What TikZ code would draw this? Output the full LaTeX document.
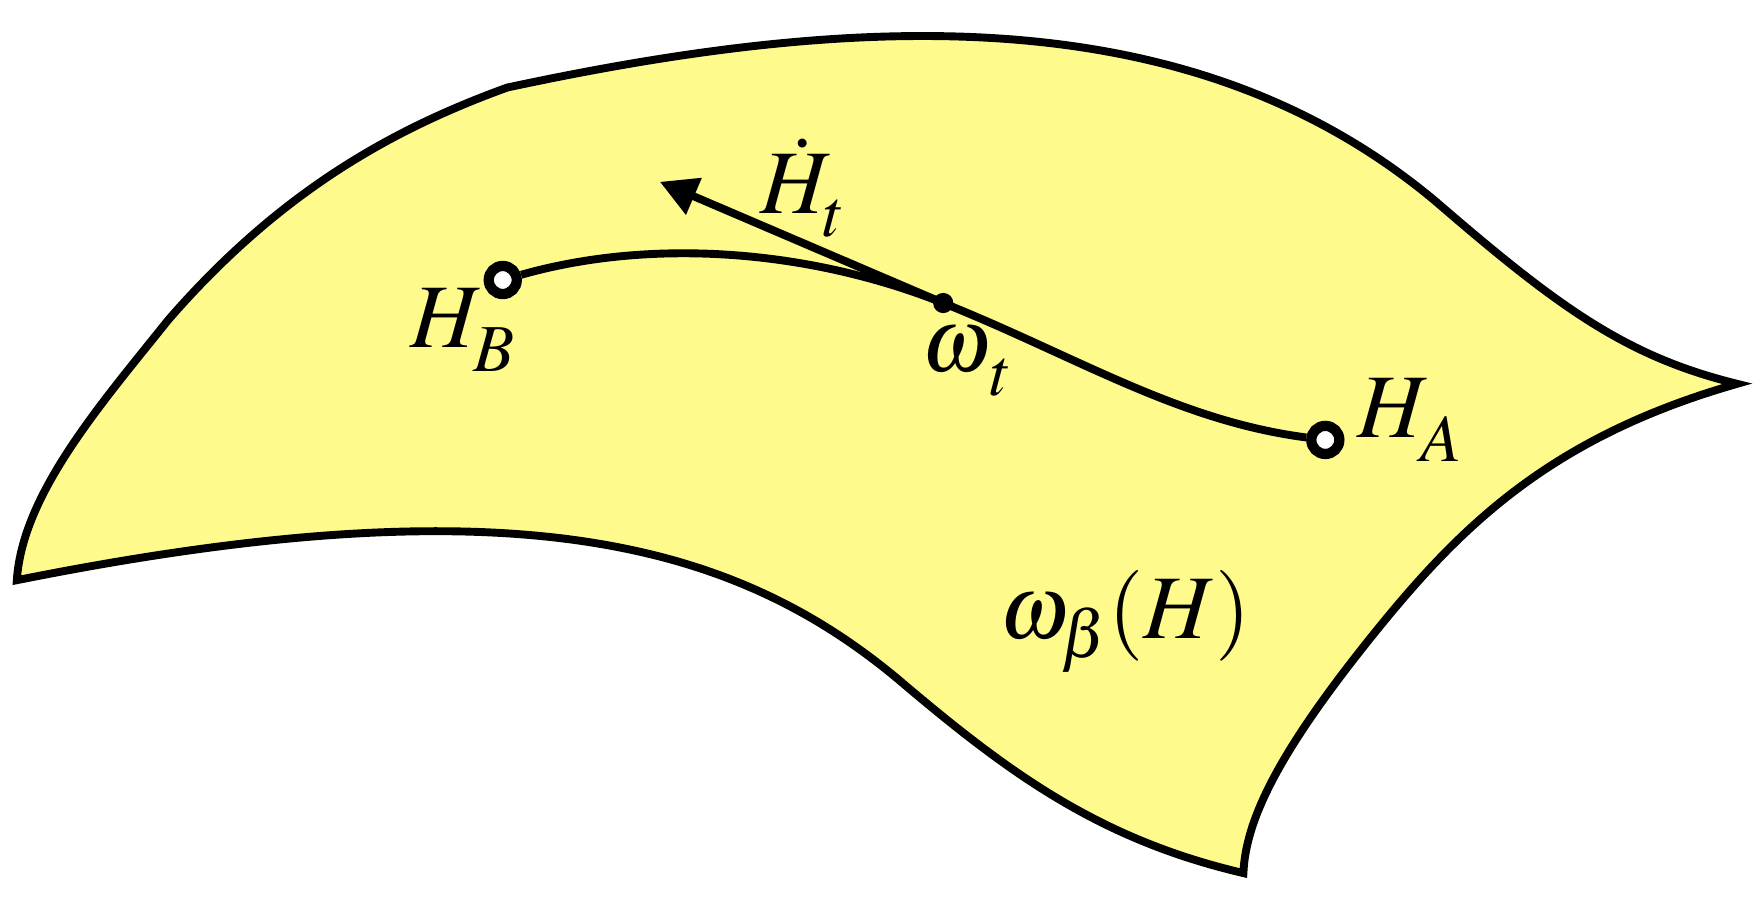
\documentclass[tikz,border=0pt]{standalone}
\usepackage{mathptmx}
\usepackage{xcolor}
\usepackage{tikz}
\usetikzlibrary{arrows.meta}
\definecolor{sheet}{RGB}{255,250,140}
\newcommand\lowsub[1]{_{\lower0.09cm\hbox{$\scriptstyle #1$}}}
\tikzset{endpt/.style={draw,circle,fill=white,line width=2.6pt,inner sep=0pt,minimum size=0.25cm},
    midpt/.style={circle,fill=black,inner sep=0pt,minimum size=0.18cm},
    lbl/.style={anchor=base west,inner sep=0pt,font=\fontsize{23}{28}\selectfont}}

\begin{document}
\begin{tikzpicture}[x=0.01cm,y=-0.01cm,line width=2pt]
        \useasboundingbox (0,0) rectangle (1563,798.5);
        \filldraw[fill=sheet] (452,78) .. controls (760,12) and (1060,-5) .. (1280,180)
            .. controls (1390,275) and (1450,318) .. (1548,342)
            .. controls (1380,390) and (1300,470) .. (1220,570)
            .. controls (1140,670) and (1110,730) .. (1108,778)
            .. controls (980,748) and (900,690) .. (800,605)
            .. controls (650,480) and (450,430) .. (15,517)
            .. controls (20,440) and (90,360) .. (150,285)
            .. controls (250,170) and (350,115) .. (452,78) -- cycle;
        \node[endpt] (HB) at (448,249.5) {};
        \node[endpt] (HA) at (1181,392) {};
        \node[midpt] (wt) at (840.5,270) {};
        \coordinate (tip) at (588,162);
        \draw (HB) .. controls (580,212) and (720,222) .. (wt.center)
            .. controls (960,318) and (1050,375) .. (HA);
        \draw[-{Triangle[length=0.33cm,width=0.34cm]}] (wt.center) -- (tip);
        \node[lbl] (lHB) at (362,310) {$H\lowsub{B}$};
        \node[lbl] (lHt) at (674,190) {$\dot{H}\lowsub{t}$};
        \node[lbl] (lwt) at (818,331) {$\omega\lowsub{\kern0.05cm t}$};
        \node[lbl] (lHA) at (1206,390) {$H\lowsub{A}$};
        \node[lbl] (lsheet) at (887,569) {$\omega_\beta(H)$};
    \end{tikzpicture}
\end{document}
